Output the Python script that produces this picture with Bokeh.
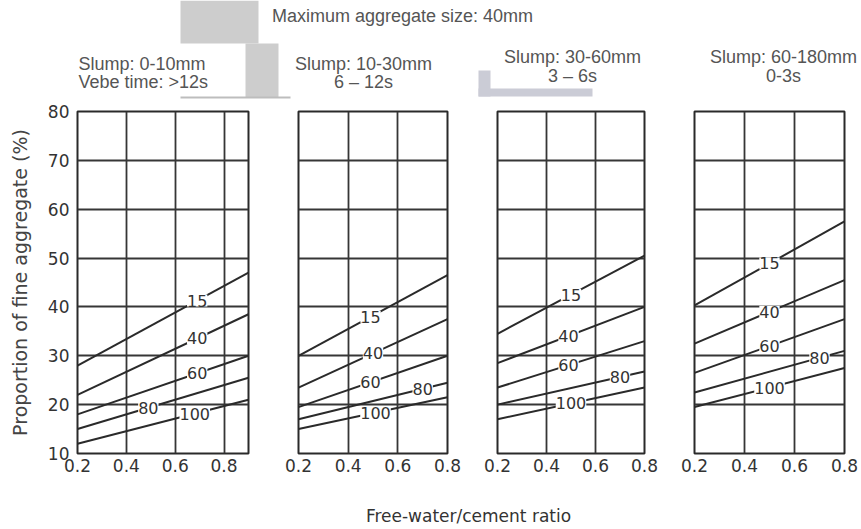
import numpy as np
from bokeh.plotting import figure
from bokeh.models import Range1d, FixedTicker, Label, LabelSet, ColumnDataSource, BoxAnnotation
from bokeh.layouts import column, row
from bokeh.core.properties import value
from bokeh.embed import file_html
from bokeh.resources import INLINE
from bokeh.core.validation import silence
from bokeh.core.validation.warnings import MISSING_RENDERERS

silence(MISSING_RENDERERS, True)

# ---------------- data ----------------
main_title = "Maximum aggregate size: 40mm"
x_axis_title = "Free-water/cement ratio"
y_axis_title = "Proportion of fine aggregate (%)"

slump_titles = ["Slump: 0-10mm", "Slump: 10-30mm", "Slump: 30-60mm", "Slump: 60-180mm"]
vebe_titles = ["Vebe time: >12s", "6 \u2013 12s", "3 \u2013 6s", "0-3s"]

# percentage of fine aggregate passing 600 um sieve (curve labels)
passing_600 = ["15", "40", "60", "80", "100"]

y_ticks = [10, 20, 30, 40, 50, 60, 70, 80]
x_ticks = [0.2, 0.4, 0.6, 0.8]
y_min, y_max = 10, 80

wc_start = [0.2, 0.2, 0.2, 0.2]
wc_end = [0.9, 0.8, 0.8, 0.8]

# proportion of fine aggregate (%) at start / end of each curve
fine_start_p1 = [28, 22, 18, 15, 12]
fine_end_p1 = [47, 38.5, 30, 25.5, 21]
fine_start_p2 = [30, 23.5, 19.5, 17, 15]
fine_end_p2 = [46.5, 37.5, 30, 24.5, 21.5]
fine_start_p3 = [34.5, 28.5, 23.5, 20, 17]
fine_end_p3 = [50.5, 40, 33, 26.8, 23.5]
fine_start_p4 = [40.3, 32.5, 26.5, 22.5, 19.5]
fine_end_p4 = [57.5, 45.5, 37.5, 31, 27.5]

fine_start = [fine_start_p1, fine_start_p2, fine_start_p3, fine_start_p4]
fine_end = [fine_end_p1, fine_end_p2, fine_end_p3, fine_end_p4]

# w/c ratio where each curve label sits
label_wc_p1 = [0.69, 0.69, 0.69, 0.49, 0.68]
label_wc_p2 = [0.49, 0.50, 0.49, 0.70, 0.51]
label_wc_p3 = [0.50, 0.49, 0.49, 0.70, 0.50]
label_wc_p4 = [0.50, 0.50, 0.50, 0.70, 0.50]
label_wc = [label_wc_p1, label_wc_p2, label_wc_p3, label_wc_p4]

# ---------------- layout / style ----------------
TOTAL_W = 860
TOP_H = 100
BOTTOM_H = 38
FRAME_H = 342
BORDER_TOP = 11
BORDER_BOTTOM = 37
ROW_H = BORDER_TOP + FRAME_H + BORDER_BOTTOM

panel_geom = [  # (left border, frame width, right border)
    (77, 171, 25),
    (25, 149, 25),
    (25, 147, 25),
    (25, 150, 16),
]
# header strip placement (pixels from strip's top-left)
main_title_pos = (402, 15)
title_pos = [  # x, align, y of line 1, y of line 2
    (78, "left", 63, 81),
    (363, "center", 63, 81),
    (572, "center", 56, 75),
    (783, "center", 56, 75),
]
# grey scan patches of the source page (left, right, top, bottom, colour)
patches = [
    (180, 258, 0, 43, "#cdcdcd"),
    (245, 278, 43, 97, "#cdcdcd"),
    (180, 290, 96, 98, "#bdbdbd"),
    (478, 490, 70, 96, "#cbccd6"),
    (478, 592, 88, 96, "#cbccd6"),
]

INK = "#2a2a2a"
TITLE_GRAY = "#555555"
TITLE_FONT = "Liberation Sans"
TICK_FONT = "DejaVu Sans"

panels = []
for i in range(4):
    bl, fw, br = panel_geom[i]
    p = figure(
        width=bl + fw + br, height=ROW_H,
        x_range=Range1d(wc_start[i], wc_end[i]), y_range=Range1d(y_min, y_max),
        output_backend="svg", toolbar_location=None, title=None,
        y_axis_location="left" if i == 0 else None,
        min_border_left=bl, min_border_right=br,
        min_border_top=BORDER_TOP, min_border_bottom=BORDER_BOTTOM,
    )
    p.background_fill_color = "white"
    p.border_fill_color = "white"
    p.outline_line_color = INK
    p.outline_line_width = 2

    p.xgrid.ticker = FixedTicker(ticks=x_ticks)
    p.ygrid.ticker = FixedTicker(ticks=y_ticks)
    p.grid.grid_line_color = "#363636"
    p.grid.grid_line_width = 1.8
    p.grid.grid_line_alpha = 1.0

    p.xaxis.ticker = FixedTicker(ticks=x_ticks)
    p.xaxis.axis_line_color = None
    p.xaxis.major_tick_line_color = None
    p.xaxis.minor_tick_line_color = None
    p.xaxis.major_label_text_font = TICK_FONT
    p.xaxis.major_label_text_font_size = "17px"
    p.xaxis.major_label_text_color = "#333333"
    p.xaxis.major_label_standoff = 5
    p.xaxis.major_tick_out = 0
    p.xaxis.major_tick_in = 0

    if i == 0:
        p.yaxis.ticker = FixedTicker(ticks=y_ticks)
        p.yaxis.axis_line_color = None
        p.yaxis.major_tick_line_color = None
        p.yaxis.minor_tick_line_color = None
        p.yaxis.major_tick_out = 0
        p.yaxis.major_tick_in = 0
        p.yaxis.major_label_text_font = TICK_FONT
        p.yaxis.major_label_text_font_size = "17px"
        p.yaxis.major_label_text_color = "#333333"
        p.yaxis.major_label_standoff = 8
        p.yaxis.axis_label = y_axis_title
        p.yaxis.axis_label_text_font = TICK_FONT
        p.yaxis.axis_label_text_font_size = "19px"
        p.yaxis.axis_label_text_font_style = "normal"
        p.yaxis.axis_label_text_color = "#444444"
        p.yaxis.axis_label_standoff = 14

    n = len(passing_600)
    x0 = [wc_start[i]] * n
    x1 = [wc_end[i]] * n
    y0 = fine_start[i]
    y1 = fine_end[i]
    seg_src = ColumnDataSource(dict(x0=x0, y0=y0, x1=x1, y1=y1))
    p.segment(x0="x0", y0="y0", x1="x1", y1="y1", source=seg_src,
              line_color=INK, line_width=2)

    lx = np.array(label_wc[i])
    ly = np.array(y0) + (np.array(y1) - np.array(y0)) * (lx - wc_start[i]) / (wc_end[i] - wc_start[i])
    lab_src = ColumnDataSource(dict(x=lx, y=ly, t=passing_600))
    labels = LabelSet(x="x", y="y", text="t", source=lab_src,
                      text_align="center", text_baseline="middle",
                      text_font=value(TICK_FONT), text_font_size=value("16px"),
                      text_color="#333333",
                      background_fill_color="white", background_fill_alpha=1.0)
    p.add_layout(labels)
    panels.append(p)


def strip(height):
    # a blank strip whose ranges map one unit to one pixel, y measured downward
    f = figure(width=TOTAL_W, height=height, x_range=Range1d(0, TOTAL_W), y_range=Range1d(height, 0),
               output_backend="svg", toolbar_location=None, title=None,
               x_axis_location=None, y_axis_location=None, min_border=0)
    f.outline_line_color = None
    f.grid.visible = False
    f.background_fill_color = "white"
    f.border_fill_color = "white"
    return f


header = strip(TOP_H)
for (l, r, t, b, c) in patches:
    header.add_layout(BoxAnnotation(left=l, right=r, top=t, bottom=b,
                                    fill_color=c, fill_alpha=1.0, line_color=None))
header.add_layout(Label(x=main_title_pos[0], y=main_title_pos[1], text=main_title,
                        text_align="center", text_baseline="middle",
                        text_font=TITLE_FONT, text_font_size="18px", text_color=TITLE_GRAY))
for i in range(4):
    x, align, yl1, yl2 = title_pos[i]
    for txt, yy in ((slump_titles[i], yl1), (vebe_titles[i], yl2)):
        header.add_layout(Label(x=x, y=yy, text=txt, text_align=align, text_baseline="middle",
                                text_font=TITLE_FONT, text_font_size="18px", text_color=TITLE_GRAY))

footer = strip(BOTTOM_H)
footer.add_layout(Label(x=468, y=25, text=x_axis_title, text_align="center", text_baseline="middle",
                        text_font=TICK_FONT, text_font_size="17px", text_color="#333333"))

layout = column(header, row(*panels), footer)

with open("out.html", "w") as fh:
    fh.write(file_html(layout, INLINE))
